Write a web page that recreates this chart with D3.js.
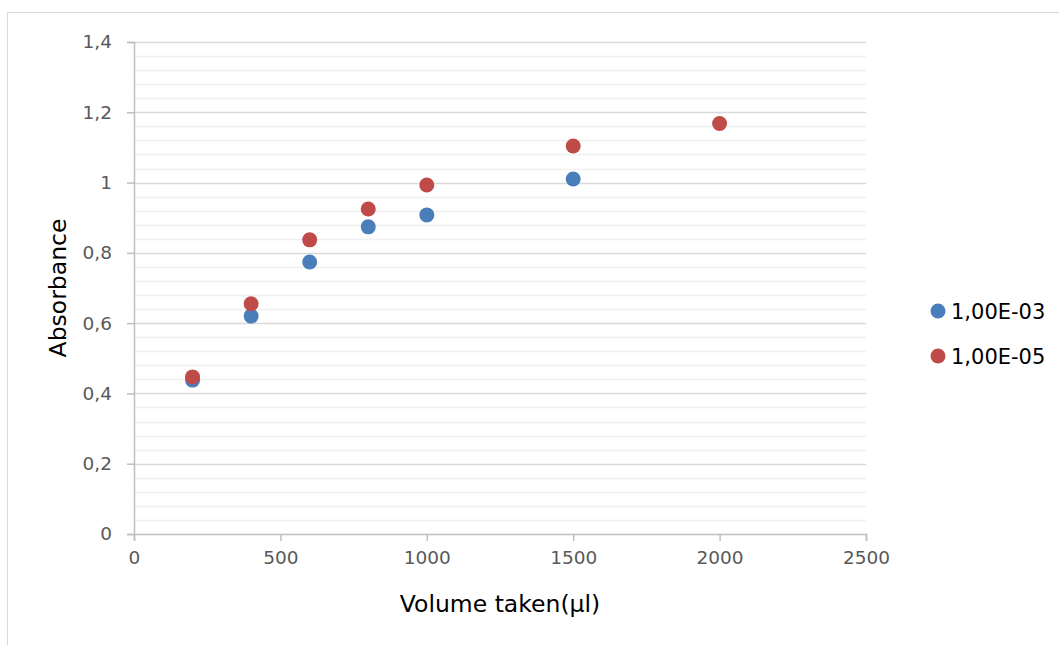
<!DOCTYPE html>
<html>
<head>
<meta charset="utf-8">
<script src="https://cdn.jsdelivr.net/npm/d3@7"></script>
<style>
  html, body { margin: 0; padding: 0; background: #fff; }
  svg { display: block; font-family: "DejaVu Sans", Verdana, sans-serif; }
</style>
</head>
<body>
<svg id="chart" width="1059" height="645"></svg>
<script>
// Absorbance readings against volume taken, for two concentrations
const volumes = [200, 400, 600, 800, 1000, 1500, 2000];
const series1Name = "1,00E-03";
const series1 = [0.438, 0.620, 0.774, 0.874, 0.908, 1.010, null];
const series2Name = "1,00E-05";
const series2 = [0.447, 0.655, 0.837, 0.925, 0.993, 1.104, 1.168];
const xTicks = [0, 500, 1000, 1500, 2000, 2500];
const yTicks = [0, 0.2, 0.4, 0.6, 0.8, 1, 1.2, 1.4];
const yMinorTicks = d3.range(0, 1.4001, 0.04);

const colors = ["#4a7ebb", "#be4b48"];

const svg = d3.select("#chart");
const W = 1059, H = 645;
const plot = { left: 134, right: 866, top: 42, bottom: 534 };

const x = d3.scaleLinear().domain([0, 2500]).range([plot.left, plot.right]);
const y = d3.scaleLinear().domain([0, 1.4]).range([plot.bottom, plot.top]);

const fmt = v => d3.format("~g")(v).replace(".", ",");

// chart frame (only the top and left edges fall inside the page)
svg.append("path")
  .attr("d", `M7.5,${H} V12.5 H${W}`)
  .attr("fill", "none").attr("stroke", "#d9d9d9").attr("stroke-width", 1);

// minor gridlines
svg.append("g").selectAll("line")
  .data(yMinorTicks.filter(v => !yTicks.some(t => Math.abs(t - v) < 1e-6)))
  .join("line")
  .attr("x1", plot.left).attr("x2", plot.right)
  .attr("y1", d => Math.round(y(d)) + 0.5).attr("y2", d => Math.round(y(d)) + 0.5)
  .attr("stroke", "#f0f0f0").attr("stroke-width", 1.5);

// major gridlines
svg.append("g").selectAll("line")
  .data(yTicks.filter(v => v > 0))
  .join("line")
  .attr("x1", plot.left).attr("x2", plot.right)
  .attr("y1", d => Math.round(y(d)) + 0.5).attr("y2", d => Math.round(y(d)) + 0.5)
  .attr("stroke", "#d9d9d9").attr("stroke-width", 1.5);

// y axis
const yAxis = svg.append("g")
  .attr("transform", `translate(${plot.left},0)`)
  .call(d3.axisLeft(y).tickValues(yTicks).tickFormat(fmt).tickSize(7).tickPadding(15));
yAxis.select(".domain").attr("stroke", "#bfbfbf").attr("stroke-width", 1.5);
yAxis.selectAll(".tick line").attr("stroke", "#bfbfbf").attr("stroke-width", 1.5);
yAxis.selectAll("text").attr("fill", "#595959").attr("font-size", 18.5)
  .attr("font-family", "DejaVu Sans, sans-serif");

// x axis
const xAxis = svg.append("g")
  .attr("transform", `translate(0,${plot.bottom})`)
  .call(d3.axisBottom(x).tickValues(xTicks).tickFormat(d3.format("d")).tickSize(7).tickPadding(10));
xAxis.select(".domain").attr("stroke", "#bfbfbf").attr("stroke-width", 1.5);
xAxis.selectAll(".tick line").attr("stroke", "#bfbfbf").attr("stroke-width", 1.5);
xAxis.selectAll("text").attr("fill", "#595959").attr("font-size", 18.5)
  .attr("font-family", "DejaVu Sans, sans-serif");

// axis titles
svg.append("text")
  .attr("x", (plot.left + plot.right) / 2).attr("y", 612)
  .attr("text-anchor", "middle").attr("font-size", 23.5).attr("fill", "#000")
  .text("Volume taken(µl)");

svg.append("text")
  .attr("transform", `translate(66,${(plot.top + plot.bottom) / 2}) rotate(-90)`)
  .attr("text-anchor", "middle").attr("font-size", 23.5).attr("fill", "#000")
  .text("Absorbance");

// data points
const all = [
  { name: series1Name, values: series1, color: colors[0] },
  { name: series2Name, values: series2, color: colors[1] }
];
all.forEach(s => {
  svg.append("g").selectAll("circle")
    .data(volumes.map((v, i) => ({ v, a: s.values[i] })).filter(d => d.a != null))
    .join("circle")
    .attr("cx", d => x(d.v)).attr("cy", d => y(d.a))
    .attr("r", 7.5).attr("fill", s.color);
});

// legend
const legend = svg.append("g");
all.forEach((s, i) => {
  const cy = 311 + i * 45;
  legend.append("circle").attr("cx", 938).attr("cy", cy).attr("r", 7.5).attr("fill", s.color);
  legend.append("text").attr("x", 951).attr("y", cy).attr("dy", "0.36em")
    .attr("font-size", 21).attr("fill", "#000").text(s.name);
});
</script>
</body>
</html>
